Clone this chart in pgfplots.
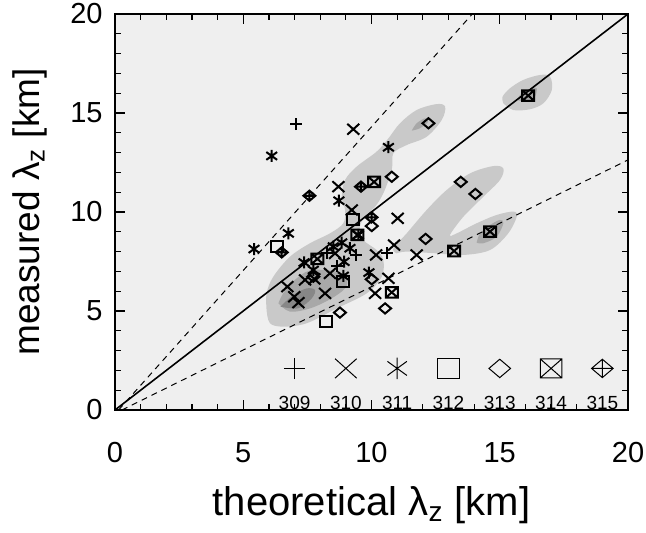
\documentclass[border=0pt]{standalone}
\usepackage{fontspec}
\setmainfont{Liberation Sans}
\usepackage{pgfplots}
\pgfplotsset{compat=1.18}

\definecolor{bg}{gray}{0.937}
\definecolor{lvA}{gray}{0.79}
\definecolor{lvB}{gray}{0.66}
\definecolor{lvC}{gray}{0.53}

\pgfdeclareplotmark{mplus}{%
  \pgfpathmoveto{\pgfqpoint{-\pgfplotmarksize}{0pt}}\pgfpathlineto{\pgfqpoint{\pgfplotmarksize}{0pt}}%
  \pgfpathmoveto{\pgfqpoint{0pt}{-\pgfplotmarksize}}\pgfpathlineto{\pgfqpoint{0pt}{\pgfplotmarksize}}%
  \pgfusepathqstroke}
\pgfdeclareplotmark{mcross}{%
  \pgfpathmoveto{\pgfqpoint{-\pgfplotmarksize}{-0.9\pgfplotmarksize}}\pgfpathlineto{\pgfqpoint{\pgfplotmarksize}{0.9\pgfplotmarksize}}%
  \pgfpathmoveto{\pgfqpoint{-\pgfplotmarksize}{0.9\pgfplotmarksize}}\pgfpathlineto{\pgfqpoint{\pgfplotmarksize}{-0.9\pgfplotmarksize}}%
  \pgfusepathqstroke}
\pgfdeclareplotmark{mast}{%
  \pgfpathmoveto{\pgfqpoint{0pt}{-\pgfplotmarksize}}\pgfpathlineto{\pgfqpoint{0pt}{\pgfplotmarksize}}%
  \pgfpathmoveto{\pgfqpoint{-0.9\pgfplotmarksize}{-0.65\pgfplotmarksize}}\pgfpathlineto{\pgfqpoint{0.9\pgfplotmarksize}{0.65\pgfplotmarksize}}%
  \pgfpathmoveto{\pgfqpoint{-0.9\pgfplotmarksize}{0.65\pgfplotmarksize}}\pgfpathlineto{\pgfqpoint{0.9\pgfplotmarksize}{-0.65\pgfplotmarksize}}%
  \pgfusepathqstroke}
\pgfdeclareplotmark{msq}{%
  \pgfpathrectangle{\pgfqpoint{-\pgfplotmarksize}{-0.9\pgfplotmarksize}}{\pgfqpoint{2\pgfplotmarksize}{1.8\pgfplotmarksize}}%
  \pgfusepathqstroke}
\pgfdeclareplotmark{mdia}{%
  \pgfpathmoveto{\pgfqpoint{-\pgfplotmarksize}{0pt}}\pgfpathlineto{\pgfqpoint{0pt}{0.85\pgfplotmarksize}}%
  \pgfpathlineto{\pgfqpoint{\pgfplotmarksize}{0pt}}\pgfpathlineto{\pgfqpoint{0pt}{-0.85\pgfplotmarksize}}\pgfpathclose
  \pgfusepathqstroke}
\pgfdeclareplotmark{msqx}{%
  \pgfpathrectangle{\pgfqpoint{-\pgfplotmarksize}{-0.88\pgfplotmarksize}}{\pgfqpoint{2\pgfplotmarksize}{1.76\pgfplotmarksize}}%
  \pgfpathmoveto{\pgfqpoint{-\pgfplotmarksize}{-0.88\pgfplotmarksize}}\pgfpathlineto{\pgfqpoint{\pgfplotmarksize}{0.88\pgfplotmarksize}}%
  \pgfpathmoveto{\pgfqpoint{-\pgfplotmarksize}{0.88\pgfplotmarksize}}\pgfpathlineto{\pgfqpoint{\pgfplotmarksize}{-0.88\pgfplotmarksize}}%
  \pgfusepathqstroke}
\pgfdeclareplotmark{mdiap}{%
  \pgfpathmoveto{\pgfqpoint{-\pgfplotmarksize}{0pt}}\pgfpathlineto{\pgfqpoint{0pt}{0.85\pgfplotmarksize}}%
  \pgfpathlineto{\pgfqpoint{\pgfplotmarksize}{0pt}}\pgfpathlineto{\pgfqpoint{0pt}{-0.85\pgfplotmarksize}}\pgfpathclose
  \pgfpathmoveto{\pgfqpoint{-\pgfplotmarksize}{0pt}}\pgfpathlineto{\pgfqpoint{\pgfplotmarksize}{0pt}}%
  \pgfpathmoveto{\pgfqpoint{0pt}{-0.85\pgfplotmarksize}}\pgfpathlineto{\pgfqpoint{0pt}{0.85\pgfplotmarksize}}%
  \pgfusepathqstroke}

\pgfplotsset{
  dmark/.style={only marks, mark=#1, mark size=3pt, mark options={line width=1pt, solid, black}},
  lmark/.style={only marks, mark=#1, mark size=5.4pt, mark options={line width=0.5pt, solid, black}},
}

\begin{document}
\begin{tikzpicture}
\begin{axis}[
  name=ax, scale only axis, width=256.5pt, height=198pt,
  xmin=0, xmax=20, ymin=0, ymax=20,
  xtick={0,5,10,15,20}, ytick={0,5,10,15,20},
  minor tick num=4,
  tick align=inside,
  major tick length=5pt, minor tick length=3pt,
  axis line style={line width=0.8pt},
  every tick/.style={black, line width=0.6pt},
  axis background/.style={fill=bg},
  /pgf/number format/assume math mode=true,
  ticklabel style={font=\fontsize{14.5}{16}\selectfont},
  xticklabel style={inner sep=0pt, yshift=-16pt},
  yticklabel style={inner sep=0pt, xshift=-6pt},
  xlabel={theoretical λ\textsubscript{z} [km]},
  ylabel={measured λ\textsubscript{z} [km]},
  xlabel style={at={(axis description cs:0.5,-0.24)}, anchor=center, font=\fontsize{20}{24}\selectfont},
  ylabel style={at={(axis description cs:-0.166,0.5)}, anchor=center, font=\fontsize{18.5}{22}\selectfont},
  axis on top,
]
% ---- contour regions ----
\addplot[fill=lvA, draw=none, smooth, tension=0.55] coordinates {
(5.91,5.05) (6.04,4.38) (6.56,4.21) (7.47,4.38) (8.64,5.13) (9.81,5.89) (10.4,6.73) (10.46,7.58) (10.2,8.08) (9.68,8.59) (9.55,9.26) (9.75,9.76) (10.14,10.27) (10.46,10.94) (10.79,12.12) (10.85,12.96) (11.37,13.38) (12.15,13.8) (12.74,14.65) (12.87,15.32) (12.54,15.45) (11.76,15.15) (11.11,14.48) (10.66,13.72) (10.2,13.05) (9.42,12.29) (8.97,11.62) (8.84,10.77) (8.97,10.1) (8.9,9.43) (8.38,8.92) (7.6,8.42) (6.82,7.74) (6.17,6.73) (5.91,5.89) (5.91,5.05)
} -- cycle;
\addplot[fill=lvA, draw=none, smooth, tension=0.55] coordinates {
(10.98,7.91) (11.37,8.0) (12.54,7.91) (13.58,7.83) (14.62,8.08) (15.33,8.92) (15.66,9.76) (15.54,10.02) (14.88,9.85) (14.1,9.43) (13.32,8.92) (13.06,8.84) (13.58,9.76) (14.36,10.77) (15.01,11.62) (15.14,12.2) (14.75,12.32) (13.84,11.95) (12.93,11.11) (12.15,10.1) (11.37,8.92) (10.85,8.17) (10.98,7.91)
} -- cycle;
\addplot[fill=lvA, draw=none, smooth, tension=0.55] coordinates {
(15.14,15.49) (15.53,15.15) (16.18,15.19) (16.7,15.49) (17.03,16.16) (16.96,16.84) (16.57,16.92) (15.92,16.67) (15.4,16.25) (15.11,15.82) (15.14,15.49)
} -- cycle;
\addplot[fill=lvB, draw=none, smooth, tension=0.55] coordinates {
(6.37,5.39) (6.82,4.97) (7.6,5.13) (8.38,5.59) (8.97,6.14) (9.03,6.65) (8.58,7.0) (7.6,7.05) (6.95,6.5) (6.56,5.9) (6.37,5.39)
} -- cycle;
\addplot[fill=lvB, draw=none, smooth, tension=0.55] coordinates {
(11.57,14.11) (11.89,14.23) (12.21,14.56) (12.09,14.73) (11.76,14.48) (11.57,14.11)
} -- cycle;
\addplot[fill=lvB, draw=none, smooth, tension=0.55] coordinates {
(14.1,8.45) (14.36,8.42) (14.88,8.75) (15.14,9.43) (15.01,9.6) (14.62,9.34) (14.23,8.92) (14.1,8.45)
} -- cycle;
\addplot[fill=lvB, draw=none, smooth, tension=0.55] coordinates {
(15.66,15.66) (16.05,15.57) (16.37,15.82) (16.44,16.25) (16.24,16.25) (15.86,16.0) (15.66,15.66)
} -- cycle;
\addplot[fill=lvC, draw=none, smooth, tension=0.55] coordinates {
(6.45,5.22) (7.15,5.14) (7.67,5.64) (7.8,6.06) (7.47,6.14) (6.95,5.81) (6.45,5.22)
} -- cycle;
% ---- reference lines ----
\addplot[black, line width=0.8pt] coordinates {(0,0) (20,20)};
\addplot[black, line width=0.5pt, dash pattern=on 3pt off 2.5pt] coordinates {(0.14,0) (13.93,20)};
\addplot[black, line width=0.5pt, dash pattern=on 3pt off 2.5pt] coordinates {(0.27,0) (20,12.63)};
% ---- data ----
% 309
\addplot[dmark=mplus] coordinates {(7.06,14.44) (9.40,7.83) (10.62,7.95) (8.67,7.29) (8.28,7.95)};
% 310
\addplot[dmark=mcross] coordinates {(9.29,14.18) (8.71,11.28) (9.23,10.10) (11.02,9.68) (10.88,8.33) (10.18,7.83) (11.76,7.83) (8.38,6.9) (7.41,6.57) (7.77,6.62) (6.72,6.23) (6.99,5.72) (7.15,5.42) (8.19,5.89) (10.66,6.65) (10.14,5.89) (8.58,7.91)};
% 311
\addplot[dmark=mast] coordinates {(6.11,12.83) (10.66,13.27) (8.73,10.57) (6.76,8.92) (5.42,8.13) (9.49,8.84) (8.84,8.45) (9.16,8.17) (8.51,8.25) (7.37,7.45) (8.93,7.49) (7.73,7.07) (8.9,6.77) (9.90,6.94)};
% 312
\addplot[dmark=msq] coordinates {(9.29,9.63) (6.30,8.25) (8.88,6.48) (8.23,4.46)};
% 313
\addplot[dmark=mdia] coordinates {(12.22,14.48) (10.79,11.78) (13.48,11.52) (14.05,10.91) (10.01,9.29) (12.11,8.64) (10.01,6.6) (10.53,5.13) (8.77,4.92) (7.73,6.73)};
% 314
\addplot[dmark=msqx] coordinates {(16.11,15.88) (10.1,11.52) (14.62,9.01) (13.22,8.03) (9.45,8.84) (7.89,7.63) (10.79,5.94)};
% 315
\addplot[dmark=mdiap] coordinates {(9.59,11.28) (7.58,10.82) (6.5,7.96) (10.0,9.73)};
% ---- legend ----
\addplot[lmark=mplus] coordinates {(7,2.1)};
\addplot[lmark=mcross] coordinates {(9,2.1)};
\addplot[lmark=mast] coordinates {(11,2.1)};
\addplot[lmark=msq] coordinates {(13,2.1)};
\addplot[lmark=mdia] coordinates {(15,2.1)};
\addplot[lmark=msqx] coordinates {(17,2.1)};
\addplot[lmark=mdiap] coordinates {(19,2.1)};
\node[font=\fontsize{9.5}{11}\selectfont] at (axis cs:7,0.35) {309};
\node[font=\fontsize{9.5}{11}\selectfont] at (axis cs:9,0.35) {310};
\node[font=\fontsize{9.5}{11}\selectfont] at (axis cs:11,0.35) {311};
\node[font=\fontsize{9.5}{11}\selectfont] at (axis cs:13,0.35) {312};
\node[font=\fontsize{9.5}{11}\selectfont] at (axis cs:15,0.35) {313};
\node[font=\fontsize{9.5}{11}\selectfont] at (axis cs:17,0.35) {314};
\node[font=\fontsize{9.5}{11}\selectfont] at (axis cs:19,0.35) {315};
\coordinate (bl) at (rel axis cs:0,0);
\coordinate (tr) at (rel axis cs:1,1);
\end{axis}
\pgfresetboundingbox
\path ([xshift=-57.5pt,yshift=-61.5pt]bl) rectangle ([xshift=9pt,yshift=7pt]tr);
\end{tikzpicture}
\end{document}
